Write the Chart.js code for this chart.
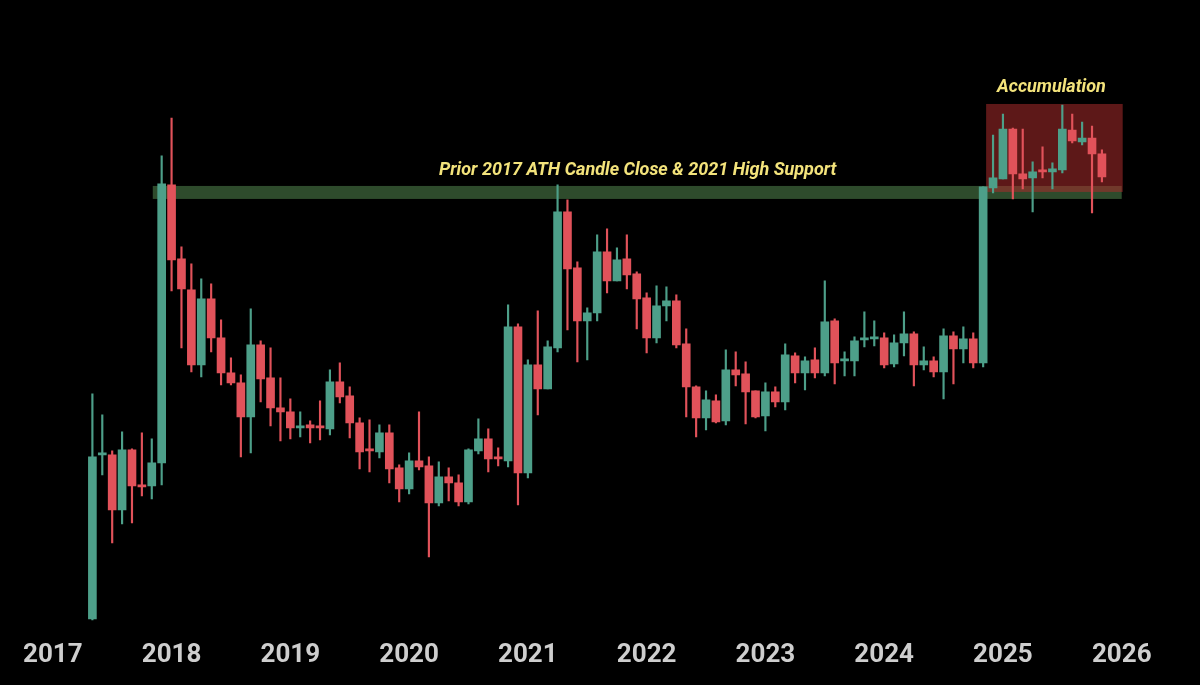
<!DOCTYPE html>
<html>
<head>
<meta charset="utf-8">
<script src="https://cdn.jsdelivr.net/npm/chart.js@4.4.1/dist/chart.umd.min.js"></script>
<style>
  html, body { margin: 0; padding: 0; background: #000; }
  #wrap { width: 1200px; height: 685px; position: relative; }
</style>
</head>
<body>
<div id="wrap"><canvas id="chart"></canvas></div>
<script>
// monthly candles, price level (hidden scale, 0 = bottom of plot)
const months = [
  '2017-05','2017-06','2017-07','2017-08','2017-09','2017-10','2017-11','2017-12',
  '2018-01','2018-02','2018-03','2018-04','2018-05','2018-06','2018-07','2018-08','2018-09','2018-10','2018-11','2018-12',
  '2019-01','2019-02','2019-03','2019-04','2019-05','2019-06','2019-07','2019-08','2019-09','2019-10','2019-11','2019-12',
  '2020-01','2020-02','2020-03','2020-04','2020-05','2020-06','2020-07','2020-08','2020-09','2020-10','2020-11','2020-12',
  '2021-01','2021-02','2021-03','2021-04','2021-05','2021-06','2021-07','2021-08','2021-09','2021-10','2021-11','2021-12',
  '2022-01','2022-02','2022-03','2022-04','2022-05','2022-06','2022-07','2022-08','2022-09','2022-10','2022-11','2022-12',
  '2023-01','2023-02','2023-03','2023-04','2023-05','2023-06','2023-07','2023-08','2023-09','2023-10','2023-11','2023-12',
  '2024-01','2024-02','2024-03','2024-04','2024-05','2024-06','2024-07','2024-08','2024-09','2024-10','2024-11','2024-12',
  '2025-01','2025-02','2025-03','2025-04','2025-05','2025-06','2025-07','2025-08','2025-09','2025-10','2025-11'
];
const open = [
  21,185,185,130,190,154,154,177,
  455,381,350,275,341,302,267,257,223,295,262,232,
  228,212,215,213,211,258,244,217,190,188,207,172,
  151,179,174,137,163,157,138,189,201,182,179,313,
  167,275,251,292,428,372,319,327,388,359,381,366,
  342,302,334,339,296,253,222,239,219,270,266,249,
  224,248,238,284,267,280,267,319,279,279,300,301,
  302,276,297,306,275,279,268,304,291,301,277,452,
  461,511,466,462,469,468,470,510,498,502,486
];
const high = [
  246,225,189,208,191,207,201,484,
  522,393,376,361,356,320,282,265,331,299,292,262,
  241,228,219,239,270,277,253,222,220,215,215,175,
  187,228,183,178,172,165,191,221,211,192,335,316,
  280,329,299,455,440,378,332,405,411,392,405,368,
  347,354,353,345,311,254,249,245,290,288,278,249,
  257,253,296,287,283,292,359,321,288,303,328,319,
  307,305,328,308,293,283,311,308,313,307,453,505,
  526,512,511,478,493,477,535,526,518,514,490
];
const low = [
  20,165,97,116,117,144,141,155,
  349,292,268,263,288,255,255,183,187,238,214,199,
  201,203,197,200,205,237,202,171,168,182,157,138,
  146,170,83,134,139,134,136,186,168,174,173,135,
  162,225,251,288,310,278,280,319,347,359,351,311,
  287,297,319,292,223,203,210,217,215,254,216,222,
  209,233,230,257,250,262,264,256,264,264,293,294,
  272,273,284,254,270,263,241,256,277,272,273,447,
  461,441,451,428,462,451,467,497,495,427,458
];
const close = [
  183,186,130,190,154,153,177,456,
  380,351,275,341,302,267,257,223,295,261,232,228,
  212,214,212,212,258,243,217,188,189,207,171,151,
  179,173,137,163,157,138,190,201,181,181,313,167,
  275,251,293,428,371,319,327,388,359,380,365,341,
  302,334,339,295,253,222,240,218,270,265,248,223,
  248,238,285,267,279,267,318,277,280,299,301,302,
  275,297,306,275,279,268,304,291,301,277,453,462,
  511,466,461,468,468,471,511,499,502,486,463
];
const years = ['2017','2018','2019','2020','2021','2022','2023','2024','2025','2026'];

// highlighted zones (x in months since Jan 2017, y in chart units)
const supportZone = { from: 10.1, to: 108, low: 441, high: 454 };
const accumZone = { from: 94.3, to: 108.1, low: 448, high: 536 };
const supportText = 'Prior 2017 ATH Candle Close & 2021 High Support';
const accumText = 'Accumulation';

const upColor = '#4d9f89';
const downColor = '#e1525a';

const monthIndex = m => (Number(m.slice(0, 4)) - 2017) * 12 + Number(m.slice(5, 7)) - 1;
const candleColors = open.map((o, k) => close[k] >= o ? upColor : downColor);

const wicks = months.map((m, k) => ({ x: monthIndex(m), y: [low[k], high[k]] }));
const bodies = months.map((m, k) => ({ x: monthIndex(m), y: [open[k], close[k]] }));

const zones = {
  id: 'zones',
  beforeDatasetsDraw(chart) {
    const { ctx, scales: { x, y } } = chart;
    ctx.save();
    ctx.fillStyle = '#2e4b2c';
    ctx.fillRect(x.getPixelForValue(supportZone.from), y.getPixelForValue(supportZone.high),
      x.getPixelForValue(supportZone.to) - x.getPixelForValue(supportZone.from),
      y.getPixelForValue(supportZone.low) - y.getPixelForValue(supportZone.high));
    ctx.fillStyle = 'rgba(170, 44, 44, 0.55)';
    ctx.fillRect(x.getPixelForValue(accumZone.from), y.getPixelForValue(accumZone.high),
      x.getPixelForValue(accumZone.to) - x.getPixelForValue(accumZone.from),
      y.getPixelForValue(accumZone.low) - y.getPixelForValue(accumZone.high));
    ctx.restore();
  },
  afterDatasetsDraw(chart) {
    const { ctx, scales: { x, y } } = chart;
    ctx.save();
    ctx.fillStyle = '#f3e37b';
    ctx.font = 'italic bold 18px Roboto';
    ctx.textAlign = 'center';
    ctx.textBaseline = 'middle';
    ctx.fillText(supportText, x.getPixelForValue(59.1), y.getPixelForValue(supportZone.high + 15));
    ctx.fillText(accumText, x.getPixelForValue(100.9), y.getPixelForValue(accumZone.high + 16));
    ctx.restore();
  }
};

new Chart(document.getElementById('chart'), {
  type: 'bar',
  data: {
    datasets: [
      { data: wicks, backgroundColor: candleColors, barThickness: 1.5, grouped: false, order: 2 },
      { data: bodies, backgroundColor: candleColors, barThickness: 8, minBarLength: 2, grouped: false, order: 1 }
    ]
  },
  options: {
    responsive: true,
    maintainAspectRatio: false,
    animation: false,
    layout: { padding: { top: 0, left: 0, right: 0, bottom: 14 } },
    plugins: { legend: { display: false }, tooltip: { enabled: false } },
    scales: {
      x: {
        type: 'linear',
        offset: false,
        min: -5.335,
        max: 115.91,
        grid: { display: false, drawTicks: false, offset: false },
        border: { display: false },
        afterBuildTicks: scale => { scale.ticks = years.map((yr, k) => ({ value: k * 12 })); },
        ticks: {
          padding: 0,
          color: '#cecece',
          font: { family: 'Roboto', weight: 'bold', size: 26 },
          autoSkip: false,
          maxRotation: 0,
          callback: (v, k) => years[k]
        }
      },
      y: { type: 'linear', display: false, min: 0, max: 640 }
    }
  },
  plugins: [zones]
});
</script>
</body>
</html>
